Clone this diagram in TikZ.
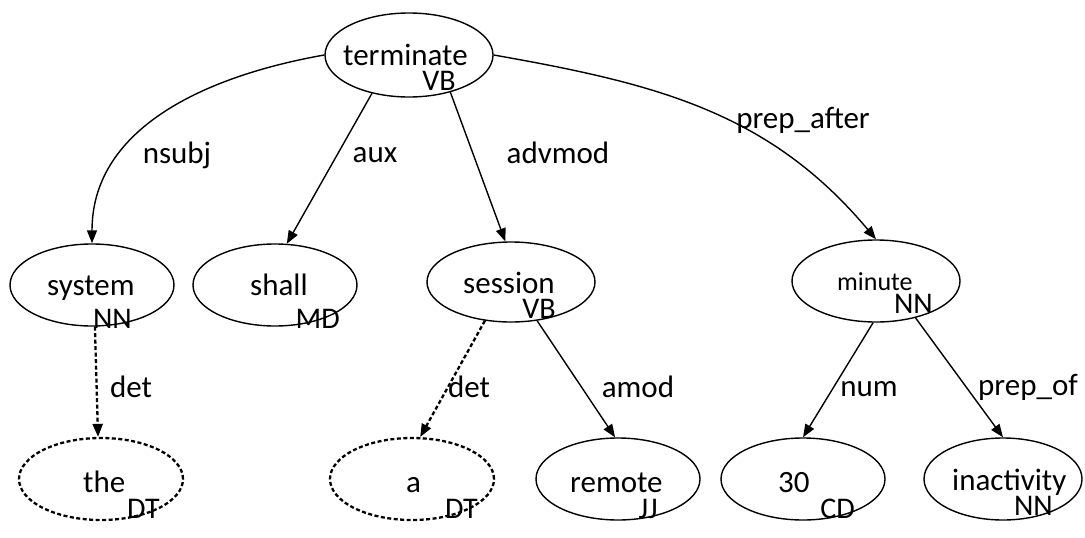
\documentclass[tikz,border=0pt]{standalone}
\usepackage{fontspec}
\setmainfont{Carlito}
\usetikzlibrary{shapes.geometric,arrows.meta}
\begin{document}
\begin{tikzpicture}[x=1pt,y=-1pt,
  ell/.style={draw, ellipse, line width=1.4pt, inner sep=0pt, minimum width=164pt, minimum height=82pt},
  dell/.style={ell, dash pattern=on 4pt off 2.5pt, line width=2.3pt},
  word/.style={inner sep=0pt, anchor=base west, font=\fontsize{31}{31}\selectfont},
  tag/.style={inner sep=0pt, anchor=base east, font=\fontsize{30}{30}\selectfont},
  lbl/.style={inner sep=0pt, font=\fontsize{31}{31}\selectfont},
  edge/.style={line width=1.4pt, -{Triangle[length=13pt,width=10pt]}},
  dedge/.style={edge, dash pattern=on 4pt off 2.5pt, line width=2.3pt}]
\useasboundingbox (0,0) rectangle (1085,538);
% ellipses
\node[ell, minimum width=168pt, minimum height=84pt] (terminate) at (409,55) {};
\node[ell] (system) at (92,285) {};
\node[ell] (shall) at (275,285) {};
\node[ell, minimum width=168pt, minimum height=80pt] (session) at (511,282) {};
\node[ell, minimum width=168pt, minimum height=82pt] (minute) at (876,281) {};
\node[dell] (the) at (101,479) {};
\node[dell] (a) at (412,479) {};
\node[ell] (remote) at (618,479) {};
\node[ell] (thirty) at (803,479) {};
\node[ell, minimum width=158pt] (inactivity) at (1003,479) {};
% texts
\node[word] (terminate-w) at (343,65) {terminate};
\node[tag] (terminate-t) at (456,90) {VB};
\node[word] (system-w) at (47,295) {system};
\node[tag] (system-t) at (132,328) {NN};
\node[word] (shall-w) at (250,295) {shall};
\node[tag] (shall-t) at (340,328) {MD};
\node[word] (session-w) at (463,293) {session};
\node[tag] (session-t) at (556,318) {VB};
\node[word, font=\fontsize{26}{26}\selectfont] (minute-w) at (837,290) {minute};
\node[tag] (minute-t) at (933,313) {NN};
\node[word] (the-w) at (83,492) {the};
\node[tag] (the-t) at (160,518) {DT};
\node[word] (a-w) at (406,492) {a};
\node[tag] (a-t) at (478,518) {DT};
\node[word] (remote-w) at (570,492) {remote};
\node[tag] (remote-t) at (658,518) {JJ};
\node[word] (thirty-w) at (778,492) {30};
\node[tag] (thirty-t) at (855,518) {CD};
\node[word] (inactivity-w) at (952,490) {inactivity};
\node[tag] (inactivity-t) at (1053,515) {NN};
% edges
\draw[edge] (terminate.west) to[out=190,in=90] (system.north);
\draw[edge] (terminate.-134) -- (shall.74);
\draw[edge] (terminate.-42) -- (session.98);
\draw[edge] (terminate.east) to[out=-10,in=130] (minute.north);
\draw[dedge] (system.-86) -- (the.94);
\draw[dedge] (session.-124) -- (a.79);
\draw[edge] (session.-56) -- (remote.94);
\draw[edge] (minute.-94) -- (thirty.90);
\draw[edge] (minute.-43) -- (inactivity.90);
% labels
\node[lbl] (l-nsubj) at (177,155) {nsubj};
\node[lbl] (l-aux) at (375,155) {aux};
\node[lbl] (l-advmod) at (558,153) {advmod};
\node[lbl] (l-prep-after) at (803,120) {prep\_after};
\node[lbl] (l-det1) at (131,387) {det};
\node[lbl] (l-det2) at (469,387) {det};
\node[lbl] (l-amod) at (638,387) {amod};
\node[lbl] (l-num) at (869,389) {num};
\node[lbl] (l-prepof) at (1028,387) {prep\_of};
\end{tikzpicture}
\end{document}
